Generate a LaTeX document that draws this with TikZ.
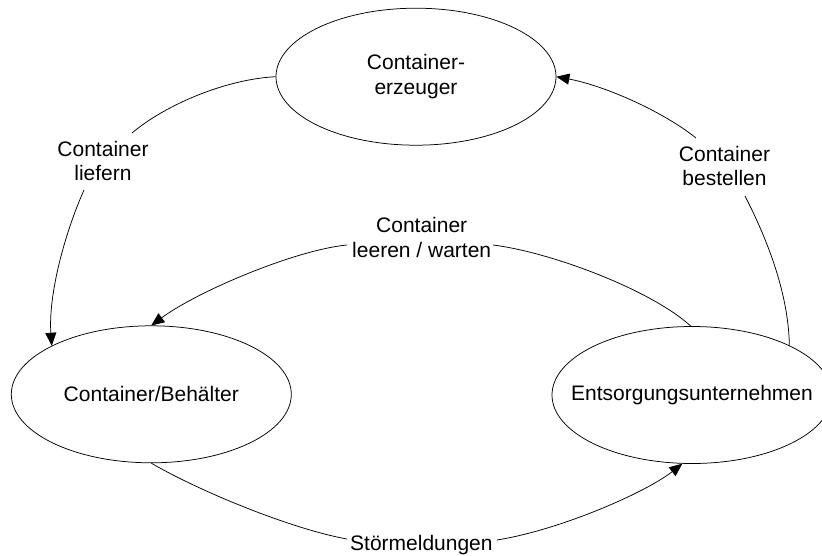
\documentclass[tikz,border=0pt]{standalone}
\usepackage{fontspec}
\setmainfont{Liberation Sans}
\usetikzlibrary{shapes.geometric,arrows.meta,calc}
\begin{document}
\begin{tikzpicture}[x=1pt,y=-1pt,
  every node/.style={font=\fontsize{21}{24.5}\selectfont},
  state/.style={ellipse,draw,line width=0.75pt,minimum width=280pt,minimum height=137pt,inner sep=0pt,align=center},
  lbl/.style={inner sep=0pt,align=center},
  flow/.style={line width=0.75pt},
  arr/.style={flow,-{Triangle[length=13pt,width=11pt]}}]
\useasboundingbox (0,0) rectangle (822,555);
\fill[white] (0,0) rectangle (822,555);
\node[state] (prod) at (416,76.7) {Container-\\erzeuger};
\node[state] (cont) at (151.3,394.3) {Container/Behälter};
\node[state] (ent) at (692,395) {\makebox[0pt]{Entsorgungsunternehmen}};
\node[lbl] (l1) at (103,161) {Container\\liefern};
\node[lbl] (l2) at (724.5,166.2) {Container\\bestellen};
\node[lbl] (l3) at (421.7,237.4) {Container\\leeren / warten};
\node[lbl] (l4) at (421.4,545.5) {Störmeldungen};
\draw[flow] (prod.west) .. controls +(-50,2.5) and +(33,-28) .. ($(l1)+(29,-28)$);
\draw[arr] ($(l1)+(-19,29)$) .. controls +(-20,45) and +(-3.5,-50) .. (cont.154);
\draw[flow] (ent.27) .. controls +(-1,-55) and +(20,39) .. ($(l2)+(20.5,29.8)$);
\draw[arr] ($(l2)+(-28.5,-28.2)$) .. controls +(-35,-28) and +(46,8.5) .. (prod.east);
\draw[flow] (ent.91) .. controls +(-40,-36.5) and +(57,7) .. ($(l3)+(71.3,7.6)$);
\draw[arr] ($(l3)+(-74.7,7.6)$) .. controls +(-52,5) and +(46,-34) .. (cont.north);
\draw[flow] (cont.south) .. controls +(50,29) and +(-55,-10) .. ($(l4)+(-74.5,-6.5)$);
\draw[arr] ($(l4)+(75.5,-5.5)$) .. controls +(63,-10) and +(-37,29) .. (ent.262);
\end{tikzpicture}
\end{document}
